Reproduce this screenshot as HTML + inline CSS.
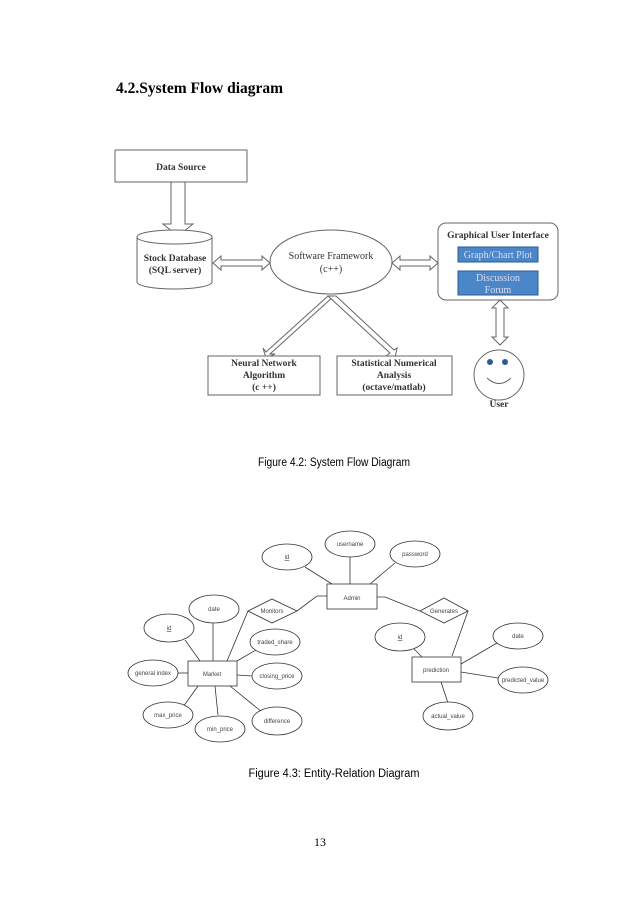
<!DOCTYPE html>
<html><head><style>
body{margin:0;background:#fff;width:638px;height:903px;overflow:hidden}
svg{display:block}
</style></head><body>
<svg width="638" height="903" viewBox="0 0 638 903" xmlns="http://www.w3.org/2000/svg">
<text x="116" y="93" font-family="Liberation Serif, serif" font-weight="bold" font-size="15.5">4.2.System Flow diagram</text>

<g font-family="Liberation Serif, serif" font-size="10" fill="#333" text-anchor="middle" stroke="#666" stroke-width="1">
<rect x="115" y="150" width="132" height="32" fill="#fff"/>
<text x="181" y="170" stroke="none" font-weight="bold" font-size="9.5">Data Source</text>
<polygon points="171,182 185,182 185,224 193,224 178,236 163,224 171,224" fill="#fff"/>
<path d="M137,237 L137,282 A37.5,7 0 0 0 212,282 L212,237" fill="#fff"/>
<ellipse cx="174.5" cy="237" rx="37.5" ry="7" fill="#fff"/>
<text x="175" y="261" stroke="none" font-weight="bold" font-size="9.5">Stock Database</text>
<text x="175" y="273" stroke="none" font-weight="bold" font-size="9.5">(SQL server)</text>
<polygon points="213,263 221,256 221,260 262,260 262,256 270,263 262,270 262,266 221,266 221,270" fill="#fff"/>
<ellipse cx="331" cy="262" rx="61" ry="32" fill="#fff"/>
<text x="331" y="259" stroke="none" font-size="10">Software Framework</text>
<text x="331" y="272" stroke="none" font-size="10">(c++)</text>
<polygon points="392,263 400,256 400,260 430,260 430,256 438,263 430,270 430,266 400,266 400,270" fill="#fff"/>
<rect x="438" y="223" width="120" height="77" rx="8" fill="#fff"/>
<text x="498" y="238" stroke="none" font-weight="bold" font-size="9.5">Graphical User Interface</text>
<rect x="458" y="247" width="80" height="15" fill="#4a86c8" stroke="#2a5a90"/>
<text x="498" y="258" stroke="none" fill="#dde" font-size="10">Graph/Chart Plot</text>
<rect x="458" y="271" width="80" height="24" fill="#4a86c8" stroke="#2a5a90"/>
<text x="498" y="281" stroke="none" fill="#dde" font-size="10">Discussion</text>
<text x="498" y="293" stroke="none" fill="#dde" font-size="10">Forum</text>
<polygon points="500,300 508,308 504,308 504,337 508,337 500,345 492,337 496,337 496,308 492,308" fill="#fff"/>
<circle cx="499" cy="375" r="25" fill="#fff"/>
<circle cx="490" cy="362" r="3" fill="#2a5a9a" stroke="none"/>
<circle cx="505" cy="362" r="3" fill="#2a5a9a" stroke="none"/>
<path d="M487,378 Q499,389 511,378" fill="none"/>
<text x="499" y="407" stroke="none" font-weight="bold" font-size="9.5">User</text>
<polygon points="328,296 334,296 270,354 275,354 266,358 263,348 266,352" fill="#fff"/>
<polygon points="328,296 336,296 394,350 397,348 395,358 386,356 390,353" fill="#fff"/>
<rect x="208" y="356" width="112" height="39" fill="#fff"/>
<text x="264" y="366" stroke="none" font-weight="bold" font-size="9.5">Neural Network</text>
<text x="264" y="378" stroke="none" font-weight="bold" font-size="9.5">Algorithm</text>
<text x="264" y="390" stroke="none" font-weight="bold" font-size="9.5">(c ++)</text>
<rect x="337" y="356" width="115" height="39" fill="#fff"/>
<text x="394" y="366" stroke="none" font-weight="bold" font-size="9.5">Statistical Numerical</text>
<text x="394" y="378" stroke="none" font-weight="bold" font-size="9.5">Analysis</text>
<text x="394" y="390" stroke="none" font-weight="bold" font-size="9.5">(octave/matlab)</text>
</g>

<text x="334" y="466" text-anchor="middle" font-family="Liberation Sans, sans-serif" font-size="11.5" textLength="152" lengthAdjust="spacingAndGlyphs">Figure 4.2: System Flow Diagram</text>

<g stroke="#333" stroke-width="0.8" fill="none">
<line x1="305" y1="567" x2="332" y2="584"/><line x1="350" y1="557" x2="350" y2="584"/><line x1="395" y1="563" x2="370" y2="584"/>
<polyline points="327,596 317,596 297,611"/><polyline points="248,611 227,661"/>
<polyline points="377,597 385,597 420,611"/><polyline points="468,611 452,656"/>
<line x1="185" y1="640" x2="200" y2="661"/><line x1="213" y1="623" x2="213" y2="661"/><line x1="256" y1="650" x2="237" y2="661"/>
<line x1="178" y1="673" x2="188" y2="673"/><line x1="252" y1="676" x2="237" y2="675"/><line x1="183" y1="707" x2="198" y2="686"/>
<line x1="218" y1="715" x2="215" y2="686"/><line x1="262" y1="712" x2="230" y2="686"/>
<line x1="412" y1="647" x2="422" y2="657"/><line x1="497" y1="643" x2="461" y2="664"/><line x1="498" y1="678" x2="461" y2="672"/><line x1="448" y1="703" x2="441" y2="682"/>
</g>
<g stroke="#333" stroke-width="0.8" fill="#fff">
<rect x="327" y="584" width="50" height="25"/><rect x="188" y="661" width="49" height="25"/><rect x="412" y="657" width="49" height="25"/>
<polygon points="248,611 272,599 297,611 272,623"/><polygon points="420,611 444,598 468,611 444,623"/>
<ellipse cx="350" cy="544" rx="25" ry="13"/><ellipse cx="287" cy="557" rx="25" ry="13"/><ellipse cx="415" cy="554" rx="25" ry="13"/>
<ellipse cx="214" cy="609" rx="25" ry="14"/><ellipse cx="169" cy="628" rx="25" ry="14"/><ellipse cx="275" cy="642" rx="25" ry="13"/>
<ellipse cx="153" cy="673" rx="25" ry="13"/><ellipse cx="277" cy="676" rx="25" ry="13"/><ellipse cx="168" cy="715" rx="25" ry="13"/>
<ellipse cx="220" cy="729" rx="25" ry="13"/><ellipse cx="277" cy="721" rx="25" ry="14"/>
<ellipse cx="400" cy="637" rx="25" ry="14"/><ellipse cx="518" cy="636" rx="25" ry="13"/><ellipse cx="523" cy="680" rx="25" ry="13"/><ellipse cx="448" cy="716" rx="25" ry="14"/>
</g>
<g font-family="Liberation Sans, sans-serif" font-size="6" fill="#444" text-anchor="middle">
<text x="352" y="600">Admin</text><text x="212" y="676">Market</text><text x="436" y="672">prediction</text>
<text x="272" y="613">Monitors</text><text x="444" y="613">Generates</text>
<text x="350" y="546">username</text><text x="287" y="559" text-decoration="underline">id</text><text x="415" y="556">password</text>
<text x="214" y="611">date</text><text x="169" y="630" text-decoration="underline">id</text><text x="275" y="644">traded_share</text>
<text x="153" y="675">general index</text><text x="277" y="678">closing_price</text><text x="168" y="717">max_price</text>
<text x="220" y="731">min_price</text><text x="277" y="723">difference</text>
<text x="400" y="639" text-decoration="underline">id</text><text x="518" y="638">date</text><text x="523" y="682">predicted_value</text><text x="448" y="718">actual_value</text>
</g>
<text x="334" y="777" text-anchor="middle" font-family="Liberation Sans, sans-serif" font-size="11.5" textLength="171" lengthAdjust="spacingAndGlyphs">Figure 4.3: Entity-Relation Diagram</text>
<text x="320" y="846" text-anchor="middle" font-family="Liberation Serif, serif" font-size="12">13</text>
</svg>
</body></html>
